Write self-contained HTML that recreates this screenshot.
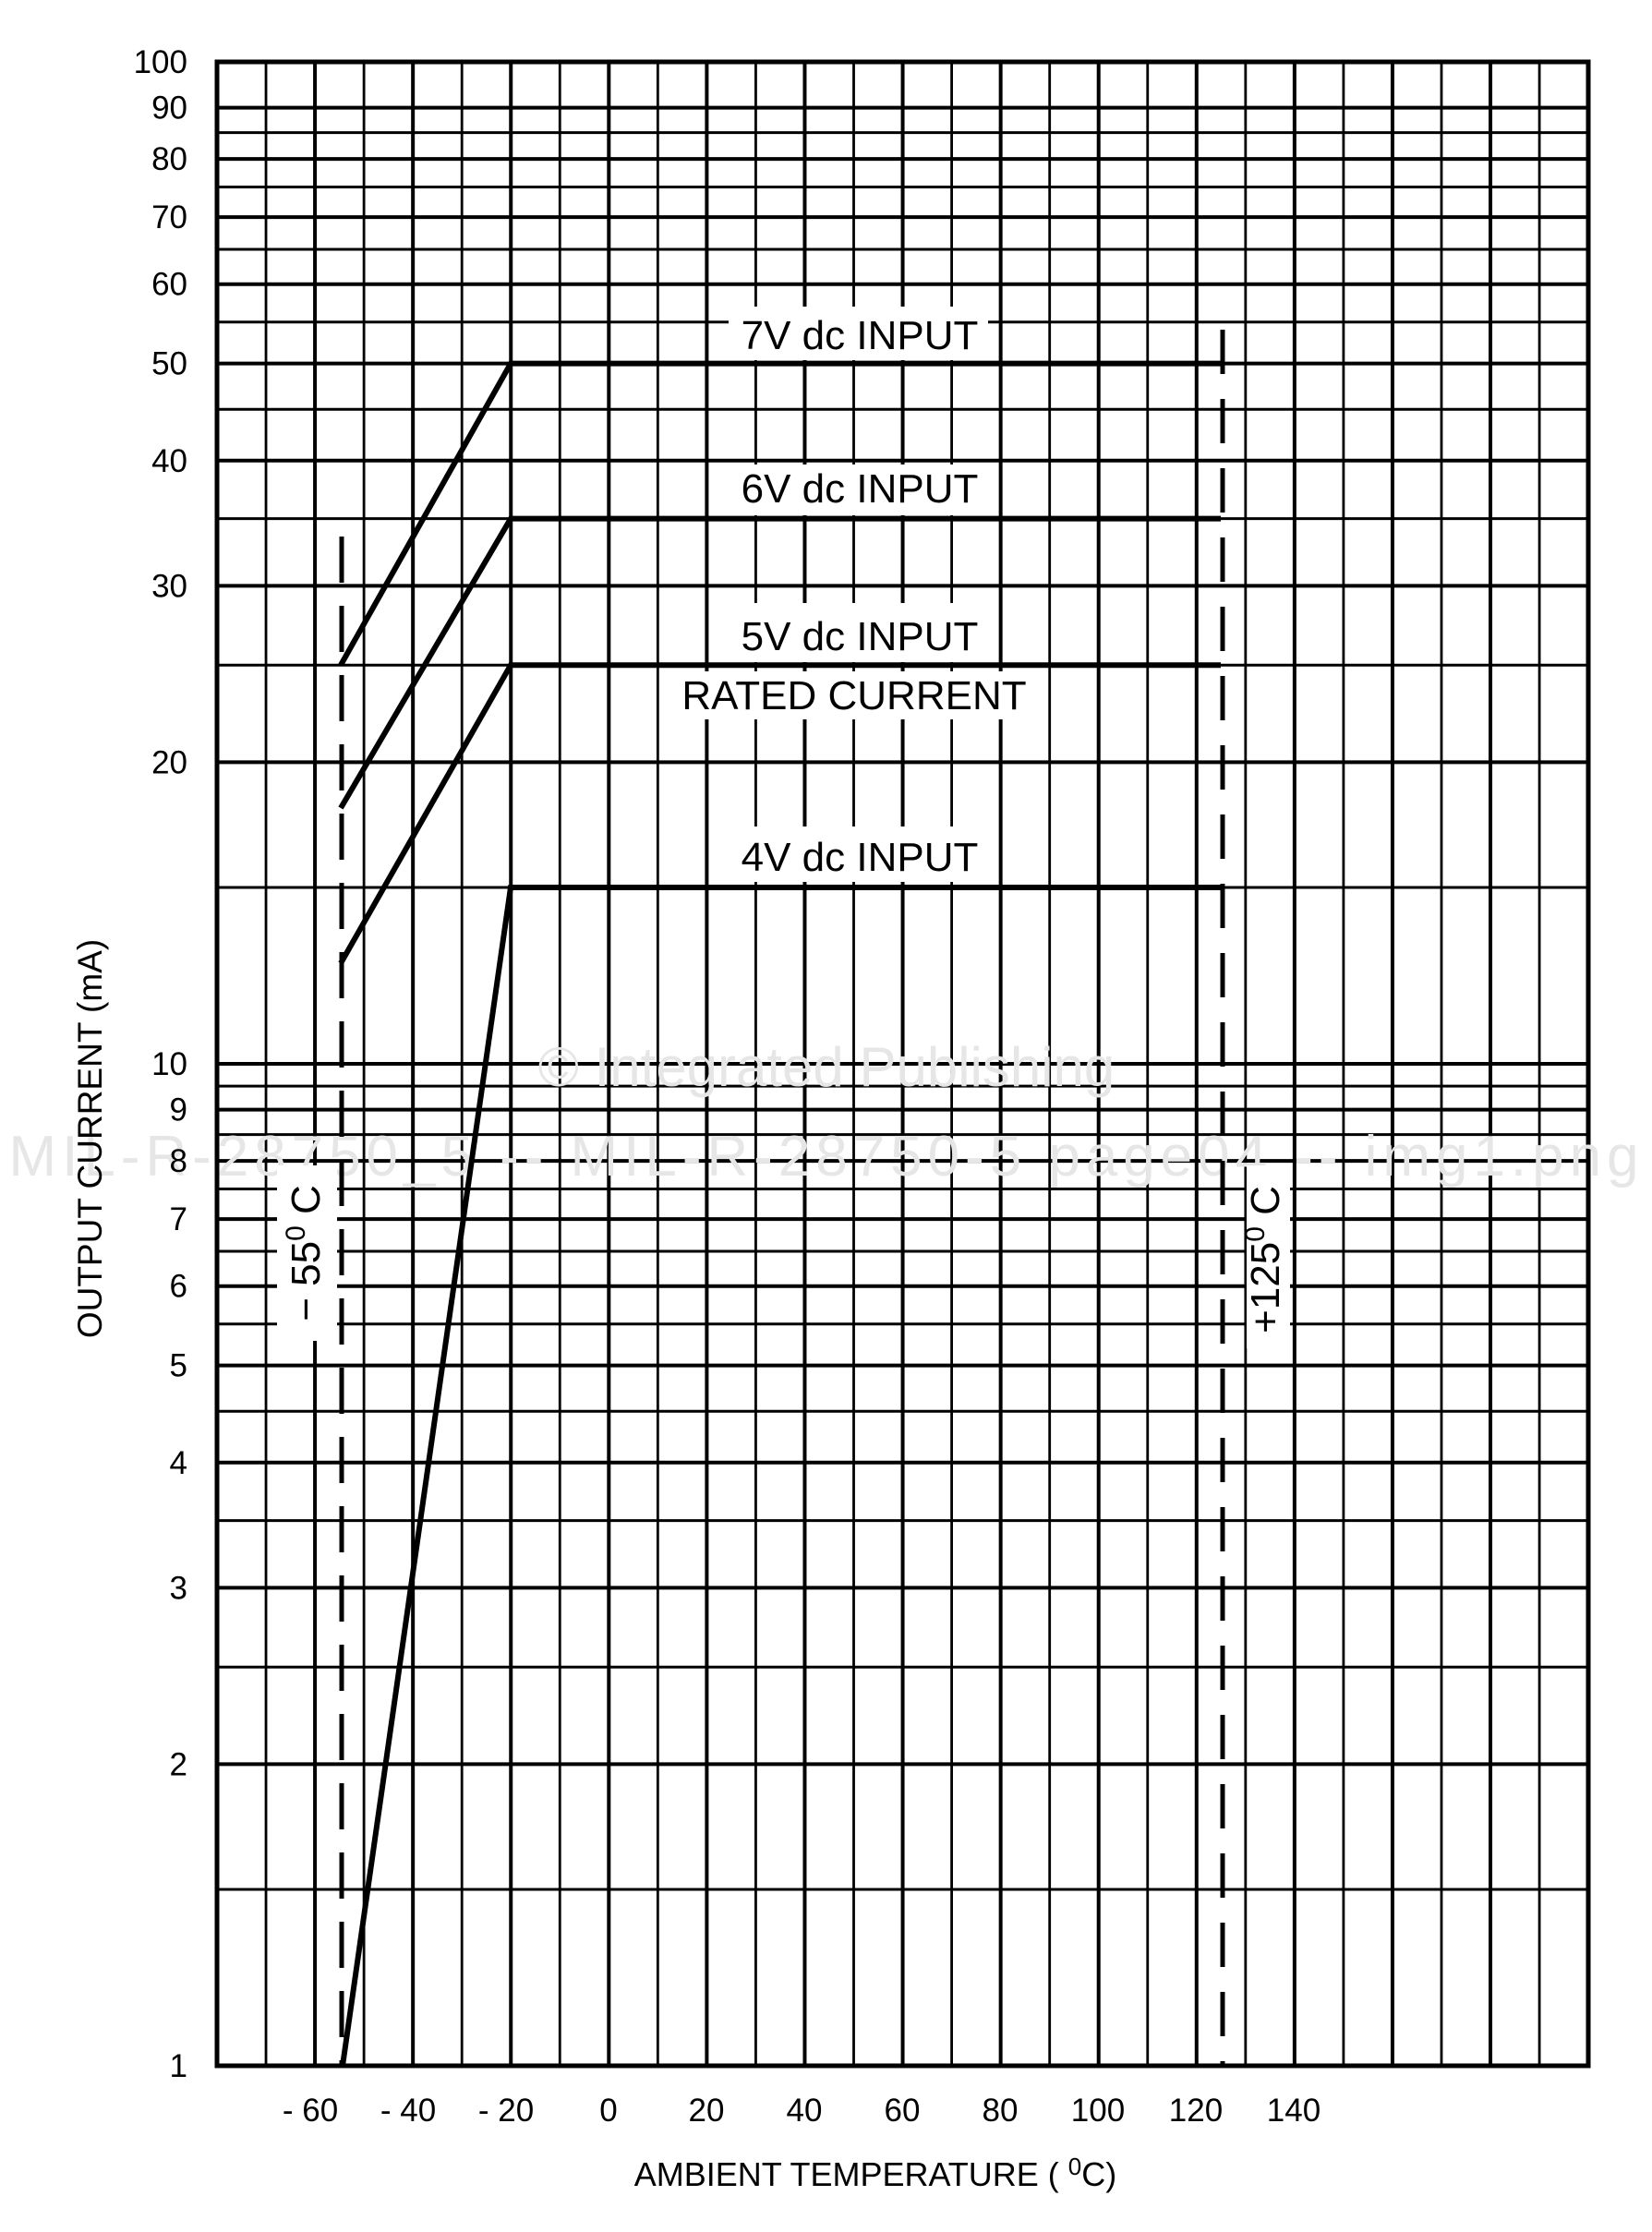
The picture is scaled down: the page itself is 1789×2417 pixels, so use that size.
<!DOCTYPE html>
<html><head><meta charset="utf-8"><style>
html,body{margin:0;padding:0;background:#fff}
svg{display:block}
text{font-family:"Liberation Sans",Arial,sans-serif;fill:#000}
</style></head><body>
<svg id="s" width="1789" height="2417" viewBox="0 0 1789 2417" xmlns="http://www.w3.org/2000/svg">
<g id="all"></g>
</svg>
<script>
(function(){
var NS="http://www.w3.org/2000/svg";
var g=document.getElementById("all");
function mk(n,a,t,p){var e=document.createElementNS(NS,n);for(var k in a)e.setAttribute(k,a[k]);if(t!==undefined)e.textContent=t;(p||g).appendChild(e);return e;}
function el(n,a,t){return mk(n,a,t,g);}
var L=235,R=1720,T=67,B=2237,D=1085;
function Y(v){return B-D*Math.log10(v);}
function X(t){return 659+t*5.3;}
var vals=[];
for(var v=1;v<=10.001;v+=0.5)vals.push(+v.toFixed(1));
for(var v=15;v<=90;v+=5)vals.push(v);
vals.push(100);
vals.forEach(function(v){
 var major=Math.abs(v-Math.round(v))<1e-6&&(v<=10||v%10==0);
 el("line",{x1:L,x2:R,y1:Y(v),y2:Y(v),stroke:"#000","stroke-width":major?4:3});
});
for(var k=0;k<=28;k++){
 var x=L+k*53.04;
 el("line",{x1:x,x2:x,y1:T,y2:B,stroke:"#000","stroke-width":k%2==0?4:2.8});
}
el("rect",{x:L,y:T,width:R-L,height:B-T,fill:"none",stroke:"#000","stroke-width":5});
el("text",{x:895,y:1176,"font-size":60,"text-anchor":"middle",style:"fill:#e6e6e6"},"© Integrated Publishing");
el("text",{x:892,y:1273,"font-size":62,"text-anchor":"middle",textLength:1765,style:"fill:#e6e6e6"},"MIL-R-28750_5 -- MIL-R-28750-5 page04 -- img1.png");
function box(x,y,w,h){el("rect",{x:x,y:y,width:w,height:h,fill:"#fff"});}
box(789,332,281,58);box(789,503,281,55);box(789,653,281,64);box(732,727,386,52);box(789,895,281,60);
box(300,1262,65,190);box(1350,1262,47,198);
el("line",{x1:370,x2:370,y1:581,y2:B,stroke:"#000","stroke-width":5,"stroke-dasharray":"50 25"});
el("line",{x1:1324,x2:1324,y1:357,y2:B,stroke:"#000","stroke-width":5,"stroke-dasharray":"48 27"});
function pl(p){el("polyline",{points:p.map(function(q){return q.join(",")}).join(" "),fill:"none",stroke:"#000","stroke-width":6});}
pl([[369,Y(25)],[553,Y(50)],[1322,Y(50)]]);
pl([[369,Y(18)],[553,Y(35)],[1322,Y(35)]]);
pl([[369,Y(12.6)],[553,Y(25)],[1322,Y(25)]]);
pl([[371,B],[553,Y(15)],[1322,Y(15)]]);
var fs=44;
el("text",{x:931,y:378,"font-size":fs,"text-anchor":"middle"},"7V dc INPUT");
el("text",{x:931,y:544,"font-size":fs,"text-anchor":"middle"},"6V dc INPUT");
el("text",{x:931,y:704,"font-size":fs,"text-anchor":"middle"},"5V dc INPUT");
el("text",{x:925,y:768,"font-size":fs,"text-anchor":"middle"},"RATED CURRENT");
el("text",{x:931,y:943,"font-size":fs,"text-anchor":"middle"},"4V dc INPUT");
function sup(t,a,pre,s,post,sfs,dy){
 var e=el("text",a);
 mk("tspan",{},pre,e);
 mk("tspan",{dy:-dy,"font-size":sfs},s,e);
 mk("tspan",{dy:dy},post,e);
 return e;
}
sup(null,{x:0,y:0,"font-size":44,"text-anchor":"middle",transform:"translate(346,1357) rotate(-90)"},"− 55","0"," C",30,16);
sup(null,{x:0,y:0,"font-size":44,"text-anchor":"middle",transform:"translate(1385,1364) rotate(-90)"},"+125","0"," C",30,16);
[100,90,80,70,60,50,40,30,20,10,9,8,7,6,5,4,3,2,1].forEach(function(a){
 el("text",{x:203,y:Y(a)+12,"font-size":35,"text-anchor":"end"},String(a));
});
[[-60,"- 60"],[-40,"- 40"],[-20,"- 20"],[0,"0"],[20,"20"],[40,"40"],[60,"60"],[80,"80"],[100,"100"],[120,"120"],[140,"140"]].forEach(function(a){
 el("text",{x:X(a[0])+(a[0]<0?-5:0),y:2297,"font-size":35,"text-anchor":"middle"},a[1]);
});
sup(null,{x:948,y:2367,"font-size":36,"text-anchor":"middle"},"AMBIENT TEMPERATURE ( ","0","C)",26,12);
el("text",{x:0,y:0,"font-size":37,"text-anchor":"middle",transform:"translate(110,1233) rotate(-90)"},"OUTPUT CURRENT (mA)");
})();
</script>
</body></html>
